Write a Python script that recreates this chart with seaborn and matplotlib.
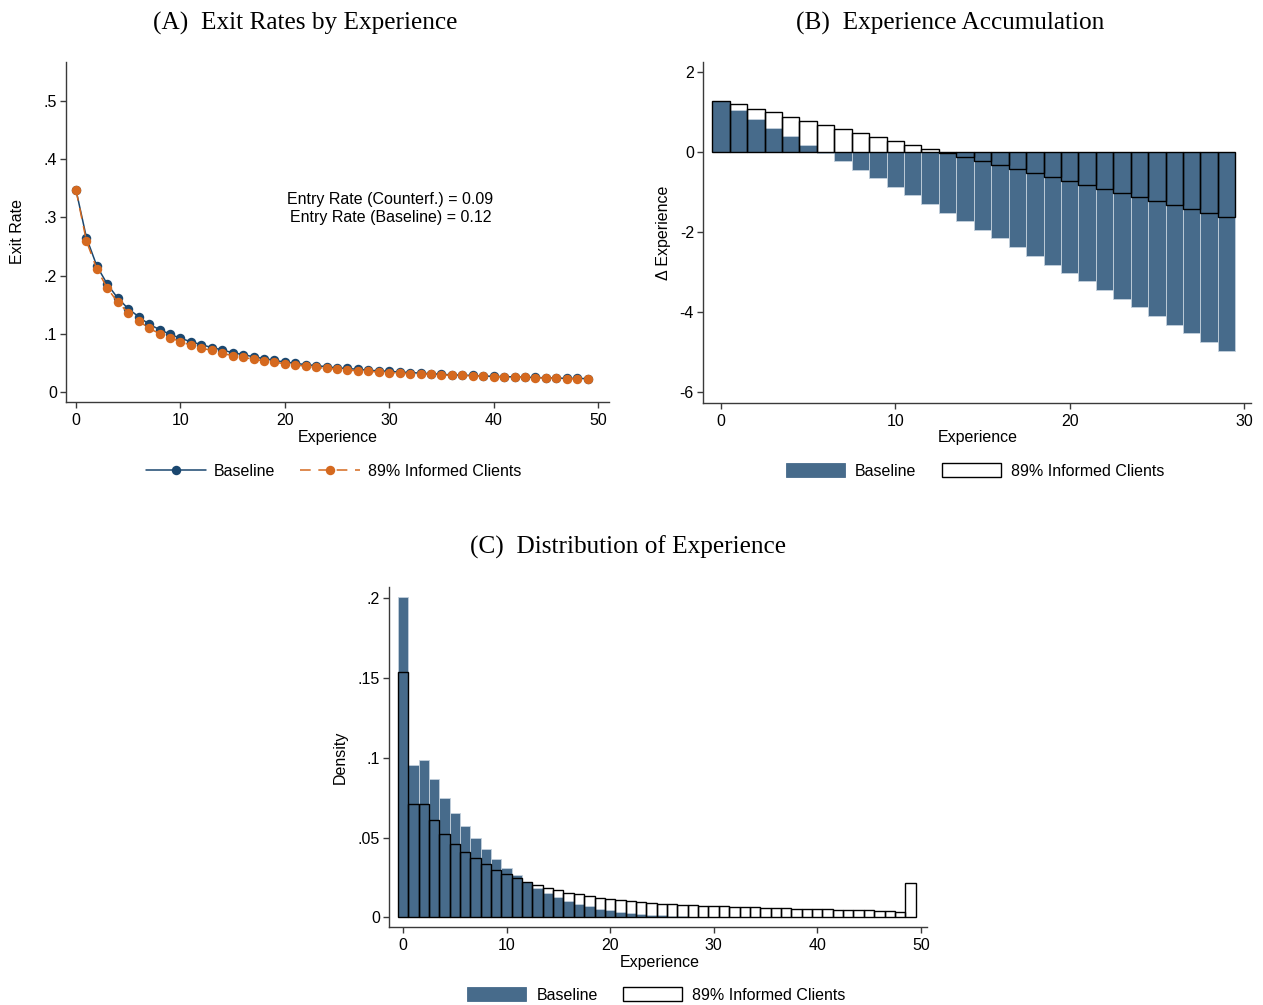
import matplotlib
matplotlib.use("Agg")
import matplotlib.pyplot as plt
import seaborn as sns
from matplotlib.lines import Line2D
from matplotlib.patches import Patch

# ---------------- data ----------------
exp_A = list(range(50))
exit_baseline = [0.347, 0.265, 0.216, 0.185, 0.161, 0.143, 0.129, 0.116, 0.107, 0.099,
                 0.092, 0.086, 0.081, 0.076, 0.072, 0.067, 0.064, 0.060, 0.057, 0.054,
                 0.051, 0.049, 0.0465, 0.045, 0.043, 0.041, 0.040, 0.0385, 0.037, 0.036,
                 0.035, 0.034, 0.033, 0.032, 0.031, 0.030, 0.029, 0.0285, 0.028, 0.027,
                 0.0265, 0.026, 0.0255, 0.025, 0.0245, 0.024, 0.0235, 0.023, 0.023, 0.0225]
exit_informed = [0.347, 0.259, 0.211, 0.178, 0.154, 0.136, 0.122, 0.109, 0.100, 0.093,
                 0.086, 0.080, 0.075, 0.071, 0.066, 0.062, 0.059, 0.056, 0.053, 0.051,
                 0.048, 0.046, 0.044, 0.042, 0.040, 0.039, 0.037, 0.036, 0.035, 0.034,
                 0.033, 0.032, 0.031, 0.0305, 0.030, 0.029, 0.028, 0.028, 0.027, 0.0267,
                 0.026, 0.0255, 0.025, 0.0245, 0.024, 0.0235, 0.023, 0.0225, 0.022, 0.0214]

exp_B = list(range(30))
dexp_baseline = [1.27, 1.03, 0.81, 0.60, 0.38, 0.17, -0.03, -0.24, -0.46, -0.66,
                 -0.88, -1.09, -1.31, -1.52, -1.74, -1.96, -2.16, -2.38, -2.60, -2.82,
                 -3.02, -3.24, -3.46, -3.67, -3.89, -4.10, -4.32, -4.53, -4.75, -4.97]
dexp_informed = [1.27, 1.18, 1.07, 0.98, 0.87, 0.77, 0.67, 0.57, 0.47, 0.37,
                 0.27, 0.17, 0.07, -0.03, -0.13, -0.23, -0.33, -0.43, -0.53, -0.63,
                 -0.73, -0.83, -0.93, -1.03, -1.13, -1.23, -1.33, -1.43, -1.52, -1.62]

exp_C = list(range(50))
dens_baseline = [0.2008, 0.0955, 0.0986, 0.0869, 0.0750, 0.0652, 0.0572, 0.0495, 0.0426, 0.0366,
                 0.0311, 0.0263, 0.0222, 0.0184, 0.0152, 0.0125, 0.0102, 0.0086, 0.0069, 0.0055,
                 0.0044, 0.0036, 0.0029, 0.0023, 0.0017, 0.0013, 0.0009, 0.0006, 0.0004, 0.0003,
                 0.0002, 0.0002, 0.0001, 0.0001, 0.0001, 0.0001, 0.0, 0.0, 0.0, 0.0,
                 0.0, 0.0, 0.0, 0.0, 0.0, 0.0, 0.0, 0.0, 0.0, 0.0]
dens_informed = [0.1536, 0.0712, 0.0712, 0.0612, 0.0524, 0.0462, 0.0412, 0.0370, 0.0332, 0.0299,
                 0.0272, 0.0245, 0.0222, 0.0205, 0.0184, 0.0169, 0.0155, 0.0144, 0.0134, 0.0124,
                 0.0113, 0.0107, 0.0100, 0.0096, 0.0092, 0.0086, 0.0082, 0.0080, 0.0078, 0.0073,
                 0.0071, 0.0069, 0.0067, 0.0065, 0.0063, 0.0061, 0.0058, 0.0056, 0.0054, 0.0052,
                 0.0051, 0.0050, 0.0048, 0.0046, 0.0045, 0.0044, 0.0042, 0.0040, 0.0036, 0.0218]

series_labels = ["Baseline", "89% Informed Clients"]
titles = ["(A)  Exit Rates by Experience", "(B)  Experience Accumulation",
          "(C)  Distribution of Experience"]
entry_texts = ["Entry Rate (Counterf.) = 0.09", "Entry Rate (Baseline) = 0.12"]

xticks_A = [0, 10, 20, 30, 40, 50]
yticks_A = [0, 0.1, 0.2, 0.3, 0.4, 0.5]
ytick_labels_A = ["0", ".1", ".2", ".3", ".4", ".5"]
xticks_B = [0, 10, 20, 30]
yticks_B = [2, 0, -2, -4, -6]
ytick_labels_B = ["2", "0", "-2", "-4", "-6"]
xticks_C = [0, 10, 20, 30, 40, 50]
yticks_C = [0, 0.05, 0.1, 0.15, 0.2]
ytick_labels_C = ["0", ".05", ".1", ".15", ".2"]

# ---------------- style ----------------
sns.set_theme(style="white")
plt.rcParams['font.family'] = ['Liberation Sans', 'DejaVu Sans']
plt.rcParams['axes.unicode_minus'] = False
plt.rcParams['text.color'] = 'black'
plt.rcParams['axes.labelcolor'] = 'black'
plt.rcParams['xtick.color'] = 'black'
plt.rcParams['ytick.color'] = 'black'

NAVY = "#1a476f"
ORANGE = "#d5691f"
BARBLUE = "#476b8b"
BAREDGE = "#c3d0dc"
AXCOL = "#3a3a3a"
FS = 11.5
MS = 6.8

W, H = 1263, 1005
fig = plt.figure(figsize=(W / 100, H / 100), dpi=100)


def px_axes(left, right, top, bottom):
    return fig.add_axes([left / W, 1 - bottom / H, (right - left) / W, (bottom - top) / H])


def style(ax):
    for s in ['top', 'right']:
        ax.spines[s].set_visible(False)
    for s in ['left', 'bottom']:
        ax.spines[s].set_color(AXCOL)
        ax.spines[s].set_linewidth(1.0)
    ax.tick_params(axis='both', which='major', direction='out', length=4.5, width=1.0,
                   color=AXCOL, labelsize=FS, pad=2, bottom=True, left=True)
    ax.tick_params(axis='x', pad=3.5)
    ax.grid(False)


# ---------------- Panel A ----------------
axA = px_axes(66, 609, 62, 401.7)
sns.lineplot(x=exp_A, y=exit_baseline, ax=axA, color=NAVY, linewidth=1.1,
             marker='o', markersize=MS, markeredgewidth=0)
sns.lineplot(x=exp_A, y=exit_informed, ax=axA, color=ORANGE, linewidth=1.1,
             linestyle=(0, (7, 5)), marker='o', markersize=MS, markeredgewidth=0)
axA.set_xlim(-0.96, 51.05)
axA.set_ylim(-0.0172, 0.5675)
axA.set_xticks(xticks_A)
axA.set_xticklabels([str(t) for t in xticks_A])
axA.set_yticks(yticks_A)
axA.set_yticklabels(ytick_labels_A)
axA.set_xlabel("Experience", fontsize=FS)
axA.set_ylabel("Exit Rate", fontsize=FS)
style(axA)
axA.xaxis.set_label_coords(0.5, -0.104)
axA.xaxis.label.set_verticalalignment('center')
axA.yaxis.set_label_coords(-0.0902, 0.5)
axA.yaxis.label.set_verticalalignment('center')
axA.text(30.1, 0.330, entry_texts[0], ha='center', va='center', fontsize=FS)
axA.text(30.1, 0.299, entry_texts[1], ha='center', va='center', fontsize=FS)

handlesA = [Line2D([], [], color=NAVY, lw=1.1, marker='o', markersize=MS, markeredgewidth=0),
            Line2D([], [], color=ORANGE, lw=1.1, ls=(0, (7, 5)), marker='o', markersize=MS,
                   markeredgewidth=0)]
fig.legend(handlesA, series_labels, loc='center', bbox_to_anchor=(334 / W, 1 - 471.5 / H),
           ncol=2, frameon=False, handlelength=3.75, handletextpad=0.5, columnspacing=1.56,
           fontsize=FS, numpoints=1, borderpad=0)

# ---------------- Panel B ----------------
axB = px_axes(703, 1251, 62, 402.7)
sns.barplot(x=exp_B, y=dexp_baseline, ax=axB, native_scale=True, width=1.0, orient='x',
            color=BARBLUE, saturation=1, errorbar=None, edgecolor=BAREDGE, linewidth=0.6)
sns.barplot(x=exp_B, y=dexp_informed, ax=axB, native_scale=True, width=1.0, orient='x',
            fill=False, color='black', errorbar=None, linewidth=1.0)
axB.set_xlim(-1.03, 30.4)
axB.set_ylim(-6.27, 2.24)
axB.set_xticks(xticks_B)
axB.set_xticklabels([str(t) for t in xticks_B])
axB.set_yticks(yticks_B)
axB.set_yticklabels(ytick_labels_B)
axB.set_xlabel("Experience", fontsize=FS)
axB.set_ylabel("\u0394 Experience", fontsize=FS)
style(axB)
axB.xaxis.set_label_coords(0.501, -0.101)
axB.xaxis.label.set_verticalalignment('center')
axB.yaxis.set_label_coords(-0.0729, 0.5)
axB.yaxis.label.set_verticalalignment('center')

def bar_handles():
    return [Patch(facecolor=BARBLUE, edgecolor=BARBLUE, linewidth=0.6),
            Patch(facecolor='white', edgecolor='black', linewidth=1.0)]

fig.legend(bar_handles(), series_labels, loc='center', bbox_to_anchor=(975 / W, 1 - 471 / H),
           ncol=2, frameon=False, handlelength=3.7, handleheight=0.95, handletextpad=0.62,
           columnspacing=1.6, fontsize=FS, borderpad=0)

# ---------------- Panel C ----------------
axC = px_axes(389.2, 927, 587, 926.7)
sns.barplot(x=exp_C, y=dens_baseline, ax=axC, native_scale=True, width=1.0, orient='x',
            color=BARBLUE, saturation=1, errorbar=None, edgecolor=BAREDGE, linewidth=0.6)
sns.barplot(x=exp_C, y=dens_informed, ax=axC, native_scale=True, width=1.0, orient='x',
            fill=False, color='black', errorbar=None, linewidth=1.0)
axC.set_xlim(-1.33, 50.6)
axC.set_ylim(-0.0059, 0.2071)
axC.set_xticks(xticks_C)
axC.set_xticklabels([str(t) for t in xticks_C])
axC.set_yticks(yticks_C)
axC.set_yticklabels(ytick_labels_C)
axC.set_xlabel("Experience", fontsize=FS)
axC.set_ylabel("Density", fontsize=FS)
style(axC)
axC.xaxis.set_label_coords(0.5026, -0.106)
axC.xaxis.label.set_verticalalignment('center')
axC.yaxis.set_label_coords(-0.0913, 0.5)
axC.yaxis.label.set_verticalalignment('center')

fig.legend(bar_handles(), series_labels, loc='center', bbox_to_anchor=(656.5 / W, 1 - 995 / H),
           ncol=2, frameon=False, handlelength=3.7, handleheight=0.95, handletextpad=0.62,
           columnspacing=1.6, fontsize=FS, borderpad=0)

# ---------------- titles ----------------
TFONT = ['Liberation Serif', 'DejaVu Serif']
fig.text(305 / W, 1 - 29.3 / H, titles[0], ha='center', va='baseline', fontsize=18.2, family=TFONT)
fig.text(950 / W, 1 - 29.3 / H, titles[1], ha='center', va='baseline', fontsize=18.2, family=TFONT)
fig.text(628 / W, 1 - 553.5 / H, titles[2], ha='center', va='baseline', fontsize=18.2, family=TFONT)

fig.savefig("out.png", dpi=100)
